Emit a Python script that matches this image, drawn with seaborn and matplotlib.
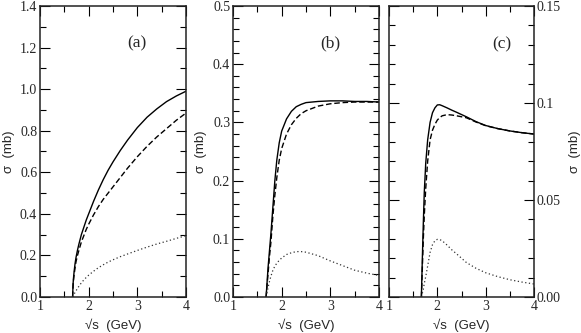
import matplotlib
matplotlib.use('Agg')
import matplotlib.pyplot as plt
import seaborn as sns
from matplotlib.ticker import MultipleLocator, FormatStrFormatter

# panel (a)
xa = [1.67, 1.68, 1.69, 1.70, 1.72, 1.74, 1.77, 1.8, 1.85, 1.9, 1.95, 2.0, 2.1, 2.2, 2.3, 2.4, 2.5,
      2.65, 2.8, 3.0, 3.2, 3.4, 3.6, 3.8, 4.0]
a_solid = [0, 0.065, 0.095, 0.12, 0.16, 0.19, 0.225, 0.255, 0.30, 0.335, 0.37, 0.40, 0.46, 0.515, 0.565,
           0.61, 0.65, 0.705, 0.755, 0.815, 0.865, 0.905, 0.94, 0.967, 0.99]
a_dash = [0, 0.055, 0.085, 0.105, 0.14, 0.17, 0.2, 0.225, 0.265, 0.295, 0.325, 0.35, 0.395, 0.435, 0.47,
          0.5, 0.53, 0.575, 0.62, 0.675, 0.725, 0.77, 0.81, 0.85, 0.885]
a_dot = [0, 0.005, 0.009, 0.013, 0.022, 0.03, 0.041, 0.052, 0.068, 0.082, 0.094, 0.105, 0.124, 0.141,
         0.155, 0.168, 0.179, 0.194, 0.207, 0.224, 0.24, 0.255, 0.268, 0.282, 0.295]

# panel (b)
xb = [1.68, 1.70, 1.72, 1.75, 1.78, 1.82, 1.86, 1.9, 1.95, 2.0, 2.1, 2.2, 2.3, 2.4, 2.5, 2.75, 3.0,
      3.25, 3.5, 3.75, 4.0]
b_solid = [0, 0.025, 0.05, 0.08, 0.11, 0.155, 0.20, 0.235, 0.265, 0.285, 0.306, 0.319, 0.327, 0.331,
           0.334, 0.336, 0.337, 0.337, 0.336, 0.336, 0.335]
b_dash = [0, 0.02, 0.04, 0.07, 0.095, 0.14, 0.175, 0.205, 0.235, 0.255, 0.28, 0.296, 0.307, 0.315,
          0.32, 0.328, 0.332, 0.334, 0.335, 0.335, 0.335]
b_dot = [0, 0.008, 0.016, 0.027, 0.036, 0.046, 0.053, 0.058, 0.063, 0.067, 0.073, 0.076, 0.078, 0.078,
         0.077, 0.071, 0.062, 0.054, 0.046, 0.041, 0.037]

# panel (c)
xc = [1.67, 1.69, 1.71, 1.73, 1.76, 1.8, 1.85, 1.9, 1.95, 2.0, 2.05, 2.1, 2.2, 2.3, 2.4, 2.6, 2.8, 3.0,
      3.25, 3.5, 3.75, 4.0]
c_solid = [0, 0.02, 0.038, 0.054, 0.069, 0.081, 0.09, 0.095, 0.0975, 0.099, 0.0991, 0.0986, 0.0975,
           0.0963, 0.0952, 0.0929, 0.0904, 0.0884, 0.0868, 0.0856, 0.0847, 0.084]
c_dash = [0, 0.015, 0.03, 0.042, 0.056, 0.07, 0.081, 0.086, 0.089, 0.0912, 0.0925, 0.0934, 0.094,
          0.0938, 0.0934, 0.0924, 0.0902, 0.0883, 0.0868, 0.0856, 0.0847, 0.084]
c_dot = [0, 0.002, 0.004, 0.007, 0.0105, 0.016, 0.023, 0.027, 0.029, 0.0297, 0.0296, 0.029, 0.0268,
         0.0243, 0.0222, 0.0178, 0.0148, 0.0125, 0.0105, 0.0089, 0.0077, 0.0067]

xticks = [1, 2, 3, 4]
c_yticks = [0, 0.05, 0.1, 0.15]
c_yticklabels = ['0.00', '0.05', '0.1', '0.15']

sns.set_style('ticks')
plt.rcParams['font.family'] = ['Liberation Serif', 'DejaVu Serif']
plt.rcParams['axes.linewidth'] = 1.1
sans = ['Liberation Sans', 'DejaVu Sans']

fig = plt.figure(figsize=(5.81, 3.33), dpi=100)
ax_a = fig.add_axes([40 / 581, 36 / 333, 146 / 581, 291 / 333])
ax_b = fig.add_axes([233 / 581, 36 / 333, 146 / 581, 291 / 333])
ax_c = fig.add_axes([389 / 581, 36 / 333, 145 / 581, 291 / 333])

panels = [
    (ax_a, xa, a_solid, a_dash, a_dot, 1.4, 0.2, 0.1, '(a)', (3.0, 1.22)),
    (ax_b, xb, b_solid, b_dash, b_dot, 0.5, 0.1, 0.02, '(b)', (3.0, 0.436)),
    (ax_c, xc, c_solid, c_dash, c_dot, 0.15, 0.05, 0.01, '(c)', (3.34, 0.130)),
]

for ax, x, ys, yd, yt, ymax, major, minor, tag, pos in panels:
    sns.lineplot(x=x, y=ys, ax=ax, color='black', lw=1.0)
    sns.lineplot(x=x, y=yd, ax=ax, color='black', lw=1.0, linestyle=(0, (4, 2)))
    sns.lineplot(x=x, y=yt, ax=ax, color='#333333', lw=0.9, linestyle=(0, (1, 2)))
    ax.set_xlim(1, 4)
    ax.set_ylim(0, ymax)
    ax.set_xticks(xticks)
    ax.xaxis.set_minor_locator(MultipleLocator(0.5))
    ax.yaxis.set_major_locator(MultipleLocator(major))
    ax.yaxis.set_minor_locator(MultipleLocator(minor))
    ax.tick_params(which='both', direction='in', top=True, right=True, width=0.8,
                   labelsize=10, pad=2, color='black')
    ax.tick_params(which='major', length=7)
    ax.tick_params(which='minor', length=4.3)
    for s in ax.spines.values():
        s.set_color('#222222')
    ax.text(pos[0], pos[1], tag, ha='center', va='center', fontsize=12.5)
    ax.set_xlabel('\u221as  (GeV)', family=sans, fontsize=9.5)
    ax.xaxis.set_label_coords(0.5, -0.073)

ax_a.yaxis.set_major_formatter(FormatStrFormatter('%.1f'))
ax_b.yaxis.set_major_formatter(FormatStrFormatter('%.1f'))
ax_a.set_ylabel('\u03c3  (mb)', family=sans, fontsize=9.5)
ax_a.yaxis.set_label_coords(-0.17, 0.5)
ax_b.set_ylabel('\u03c3  (mb)', family=sans, fontsize=9.5)
ax_b.yaxis.set_label_coords(-0.18, 0.5)

ax_c.set_yticks(c_yticks, labels=c_yticklabels)
ax_c.yaxis.set_minor_locator(MultipleLocator(0.01))
ax_c.tick_params(axis='y', labelleft=False, labelright=True)
ax_c.yaxis.set_label_position('right')
ax_c.set_ylabel('\u03c3  (mb)', family=sans, fontsize=9.5)
ax_c.yaxis.set_label_coords(1.24, 0.5)

fig.savefig('out.png', dpi=100)
plt.close(fig)
